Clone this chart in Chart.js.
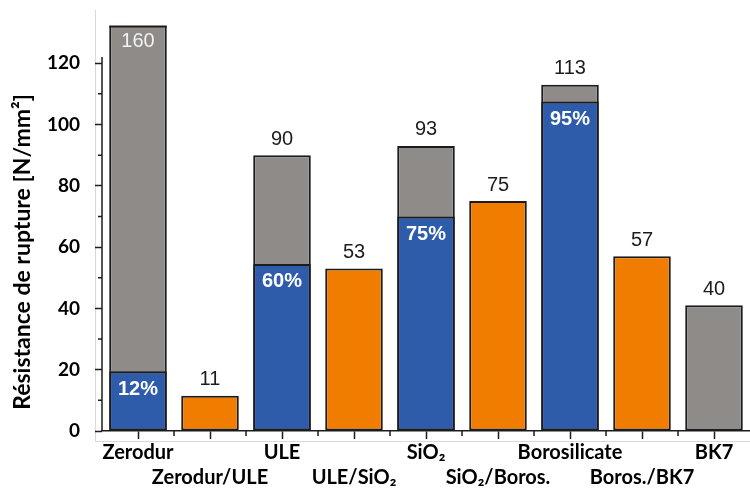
<!DOCTYPE html>
<html>
<head>
<meta charset="utf-8">
<script src="https://cdn.jsdelivr.net/npm/chart.js@4"></script>
<style>
  html, body { margin: 0; padding: 0; background: #fff; }
  #wrap { position: relative; width: 750px; height: 492px; }
  #frame { position: absolute; left: 95px; top: 10px; width: 660px; height: 431px;
           border-left: 1px solid #d8d8d8; border-bottom: 1px solid #d8d8d8; }
  canvas { position: absolute; left: 0; top: 0; }
</style>
</head>
<body>
<div id="wrap">
  <div id="frame"></div>
  <canvas id="chart" width="750" height="492"></canvas>
</div>
<script>
// ==============================
// Data
// ==============================
const categories = [
    ['Zerodur', ''], ['', 'Zerodur/ULE'], ['ULE', ''], ['', 'ULE/SiO₂'], ['SiO₂', ''],
    ['', 'SiO₂/Boros.'], ['Borosilicate', ''], ['', 'Boros./BK7'], ['BK7', '']
];
const totalValues   = [160, null, 90, null, 93, null, 113, null, 41];
const partValues    = [19.5, null, 54.5, null, 70, null, 107.5, null, null];
const mixValues     = [null, 11.5, null, 53, null, 75, null, 57, null];
const valueLabels   = ['160', '11', '90', '53', '93', '75', '113', '57', '40'];
const percentLabels = ['12%', '', '60%', '', '75%', '', '95%', '', ''];
const yTicks      = [0, 20, 40, 60, 80, 100, 120];
const yMinorTicks = [10, 30, 50, 70, 90, 110];
const yMax = 132;
const yAxisEnd = 122;
const yTitle = 'Résistance de rupture [N/mm²]';

const INK = '#1c1c1c';

// ==============================
// Plugins
// ==============================
const axisExtras = {
    id: 'axisExtras',
    afterDraw(chart) {
        const { ctx, chartArea } = chart;
        const x = chart.scales.x, y = chart.scales.y;
        ctx.save();
        ctx.strokeStyle = INK;
        ctx.lineWidth = 1.5;
        ctx.beginPath();
        // y axis line stops short of the top
        ctx.moveTo(chartArea.left, y.getPixelForValue(0));
        ctx.lineTo(chartArea.left, y.getPixelForValue(yAxisEnd));
        // minor y ticks
        yMinorTicks.forEach(v => {
            const py = y.getPixelForValue(v);
            ctx.moveTo(chartArea.left - 4, py);
            ctx.lineTo(chartArea.left, py);
        });
        // minor x ticks between categories
        for (let i = 1; i < categories.length; i++) {
            const px = (x.getPixelForValue(i - 1) + x.getPixelForValue(i)) / 2;
            ctx.moveTo(px, chartArea.bottom);
            ctx.lineTo(px, chartArea.bottom + 5);
        }
        ctx.stroke();

        // y title, sitting a bit lower than the chart-area middle
        ctx.translate(23, 252);
        ctx.rotate(-Math.PI / 2);
        ctx.textAlign = 'center';
        ctx.textBaseline = 'middle';
        ctx.fillStyle = '#000';
        ctx.font = 'bold 23px Lato, sans-serif';
        ctx.fillText(yTitle, 0, 0);
        ctx.restore();
    }
};

const barLabels = {
    id: 'barLabels',
    afterDatasetsDraw(chart) {
        const { ctx, chartArea } = chart;
        const yScale = chart.scales.y;
        const partMeta = chart.getDatasetMeta(0);
        const totalMeta = chart.getDatasetMeta(1);
        const mixMeta = chart.getDatasetMeta(2);
        ctx.save();
        ctx.textAlign = 'center';
        ctx.textBaseline = 'middle';
        valueLabels.forEach((txt, i) => {
            const isTotal = totalValues[i] != null;
            const val = isTotal ? totalValues[i] : mixValues[i];
            const el = (isTotal ? totalMeta : mixMeta).data[i];
            ctx.font = '20px "Liberation Sans", Arial, sans-serif';
            if (val > yScale.max) {
                // bar runs off the top: close it and write the value inside
                ctx.strokeStyle = INK;
                ctx.lineWidth = 2;
                ctx.beginPath();
                ctx.moveTo(el.x - el.width / 2, chartArea.top);
                ctx.lineTo(el.x + el.width / 2, chartArea.top);
                ctx.stroke();
                ctx.fillStyle = '#f2f2f2';
                ctx.fillText(txt, el.x, chartArea.top + 15);
            } else {
                ctx.fillStyle = INK;
                ctx.fillText(txt, el.x, el.y - 16);
            }
        });
        percentLabels.forEach((txt, i) => {
            if (!txt) return;
            const el = partMeta.data[i];
            ctx.fillStyle = '#fff';
            ctx.font = 'bold 20px "Liberation Sans", Arial, sans-serif';
            ctx.fillText(txt, el.x, el.y + 18);
        });
        ctx.restore();
    }
};

// ==============================
// Chart
// ==============================
const ctx = document.getElementById('chart').getContext('2d');
new Chart(ctx, {
    type: 'bar',
    data: {
        labels: categories,
        datasets: [
            { label: 'part', data: partValues, backgroundColor: '#2e5caa' },
            { label: 'total', data: totalValues, backgroundColor: '#8f8b88' },
            { label: 'mix', data: mixValues, backgroundColor: '#f07c00' }
        ]
    },
    options: {
        responsive: false,
        animation: false,
        layout: { padding: { top: 25, right: 0, left: 0, bottom: 0 } },
        datasets: {
            bar: {
                grouped: false,
                barPercentage: 0.8,
                categoryPercentage: 1,
                borderColor: INK,
                borderWidth: 2,
                borderSkipped: false
            }
        },
        plugins: { legend: { display: false }, tooltip: { enabled: false } },
        scales: {
            x: {
                grid: { offset: false, drawOnChartArea: false, tickLength: 8, tickColor: INK, tickWidth: 1.5 },
                border: { color: INK, width: 1.5 },
                ticks: {
                    color: '#000',
                    font: { family: 'Lato', weight: 'bold', size: 20, lineHeight: 1.25 },
                    padding: 1,
                    maxRotation: 0,
                    autoSkip: false
                },
                afterFit: s => { s.height = 61; }
            },
            y: {
                min: 0,
                max: yMax,
                afterBuildTicks: s => { s.ticks = yTicks.map(v => ({ value: v })); },
                grid: { drawOnChartArea: false, tickLength: 7, tickColor: INK, tickWidth: 1.5 },
                border: { display: false },
                ticks: {
                    color: '#000',
                    font: { family: 'Lato', weight: 'bold', size: 19 },
                    padding: 15
                },
                afterFit: s => { s.width = 102; }
            }
        }
    },
    plugins: [axisExtras, barLabels]
});
</script>
</body>
</html>
